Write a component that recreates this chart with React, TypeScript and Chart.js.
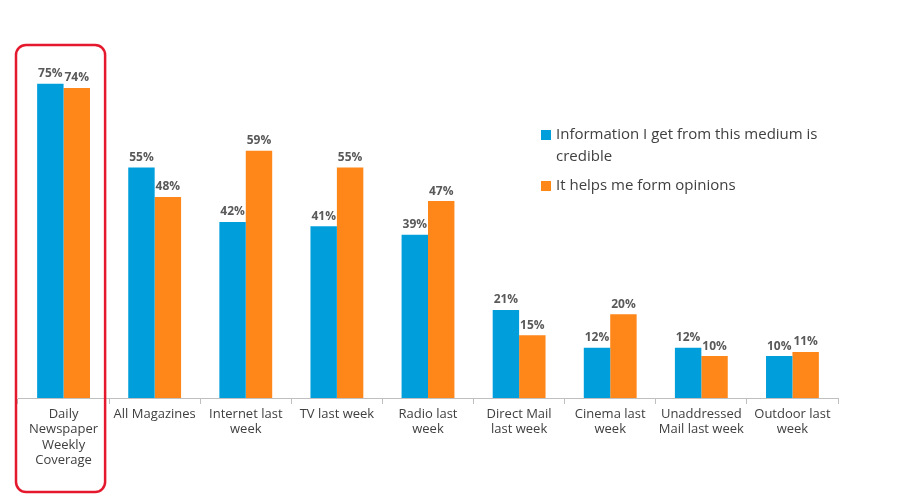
import React, { useEffect, useRef } from "react";
import { Chart, registerables } from "chart.js";
Chart.register(...registerables);

const categories: string[][] = [
  ["Daily", "Newspaper", "Weekly", "Coverage"],
  ["All Magazines"],
  ["Internet last", "week"],
  ["TV last week"],
  ["Radio last", "week"],
  ["Direct Mail", "last week"],
  ["Cinema last", "week"],
  ["Unaddressed", "Mail last week"],
  ["Outdoor last", "week"],
];
const credible = [75, 55, 42, 41, 39, 21, 12, 12, 10];
const opinions = [74, 48, 59, 55, 47, 15, 20, 10, 11];
const seriesNames = ["Information I get from this medium is credible", "It helps me form opinions"];
const BLUE = "#009FDB";
const ORANGE = "#FF8619";
const FONT = "'Open Sans', 'Liberation Sans', sans-serif";

const extras = {
  id: "extras",
  afterDatasetsDraw(chart: any) {
    const ctx = chart.ctx;
    ctx.save();
    ctx.font = `bold 12px ${FONT}`;
    ctx.fillStyle = "#595959";
    ctx.textAlign = "center";
    ctx.textBaseline = "bottom";
    chart.data.datasets.forEach((ds: any, i: number) => {
      chart.getDatasetMeta(i).data.forEach((bar: any, j: number) => {
        ctx.fillText(ds.data[j] + "%", bar.x, bar.y - 4);
      });
    });
    // highlight box around first category
    const xs = chart.scales.x;
    const c = xs.getPixelForValue(0);
    const w = (xs.right - xs.left) / categories.length;
    ctx.strokeStyle = "#E5192E";
    ctx.lineWidth = 2.5;
    ctx.beginPath();
    ctx.roundRect(c - w / 2 - 2, 45, w - 2, 447, 10);
    ctx.stroke();
    // legend
    ctx.font = `15px ${FONT}`;
    ctx.textAlign = "left";
    ctx.textBaseline = "middle";
    ctx.fillStyle = BLUE;
    ctx.fillRect(541, 130, 10, 10);
    ctx.fillStyle = ORANGE;
    ctx.fillRect(541, 181, 10, 10);
    ctx.fillStyle = "#404040";
    ctx.fillText("Information I get from this medium is", 556, 135);
    ctx.fillText("credible", 556, 157);
    ctx.fillText(seriesNames[1], 556, 186);
    ctx.restore();
  },
};

export default function App() {
  const ref = useRef<HTMLCanvasElement>(null);
  useEffect(() => {
    document.body.style.margin = "0";
    const chart = new Chart(ref.current!, {
      type: "bar",
      data: {
        labels: categories,
        datasets: [
          { label: seriesNames[0], data: credible, backgroundColor: BLUE, categoryPercentage: 0.58, barPercentage: 1 },
          { label: seriesNames[1], data: opinions, backgroundColor: ORANGE, categoryPercentage: 0.58, barPercentage: 1 },
        ],
      },
      options: {
        animation: false,
        responsive: false,
        layout: { padding: { left: 18, right: 63, top: 21, bottom: 0 } },
        plugins: { legend: { display: false }, tooltip: { enabled: false } },
        scales: {
          y: { display: false, min: 0, max: 90 },
          x: {
            afterFit: (s: any) => { s.height = 106; },
            grid: { display: true, offset: true, drawOnChartArea: false, tickLength: 6, color: "#BFBFBF" },
            border: { display: true, color: "#BFBFBF" },
            ticks: { color: "#404040", font: { family: FONT, size: 13 }, maxRotation: 0, autoSkip: false, padding: 2 },
          },
        },
      },
      plugins: [extras],
    });
    return () => chart.destroy();
  }, []);
  return <canvas ref={ref} width={901} height={504} style={{ display: "block" }} />;
}
